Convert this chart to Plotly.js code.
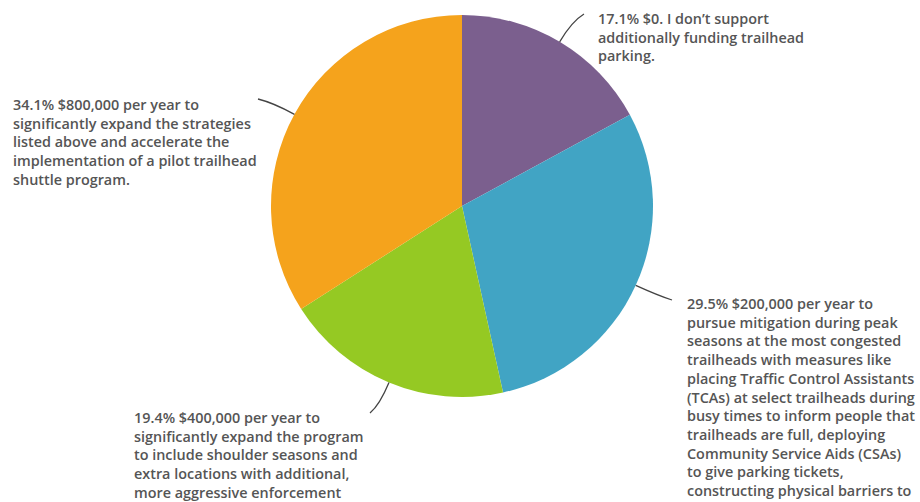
<!DOCTYPE html>
<html>
<head>
<meta charset="utf-8">
<script src="https://cdn.plot.ly/plotly-3.0.1.min.js"></script>
<style>html,body{margin:0;padding:0;background:#fff;}#chart{width:920px;height:502px;}</style>
</head>
<body>
<div id="chart"></div>
<script>
// ---- data ----
const categories = [
  "$0. I don’t support additionally funding trailhead parking.",
  "$200,000 per year to pursue mitigation",
  "$400,000 per year to significantly expand the program",
  "$800,000 per year to significantly expand the strategies"
];
const values = [17.1, 29.5, 19.4, 34.1];
const colors = ["#7b5f8e", "#41a4c4", "#95c923", "#f5a31c"];
const labelTexts = [
  "17.1% $0. I don’t support<br>additionally funding trailhead<br>parking.",
  "29.5% $200,000 per year to<br>pursue mitigation during peak<br>seasons at the most congested<br>trailheads with measures like<br>placing Traffic Control Assistants<br>(TCAs) at select trailheads during<br>busy times to inform people that<br>trailheads are full, deploying<br>Community Service Aids (CSAs)<br>to give parking tickets,<br>constructing physical barriers to",
  "19.4% $400,000 per year to<br>significantly expand the program<br>to include shoulder seasons and<br>extra locations with additional,<br>more aggressive enforcement",
  "34.1% $800,000 per year to<br>significantly expand the strategies<br>listed above and accelerate the<br>implementation of a pilot trailhead<br>shuttle program."
];

// ---- layout constants (pixels) ----
const W = 920, H = 502;
const CX = 462, CY = 206, R = 191;
const FS = 14.4;
const labelPos = [ // left x, first-line centre y
  [597, 17.3], [686, 302.7], [133, 416.7], [12, 103.3]
];
const leaderEnd = [[584, 14], [672, 300], [370, 413], [258, 99]];

const px = x => x / W;
const py = y => 1 - y / H;

const total = values.reduce((a, b) => a + b, 0);
let cum = 0;
const shapes = [];
values.forEach((v, i) => {
  const th = 2 * Math.PI * (cum + v / 2) / total;
  cum += v;
  const dx = Math.sin(th), dy = -Math.cos(th);
  const sx = CX + R * dx, sy = CY + R * dy;
  const cx = sx + 24 * dx, cy = sy + 24 * dy;
  const [ex, ey] = leaderEnd[i];
  shapes.push({
    type: 'path', xref: 'paper', yref: 'paper',
    path: `M ${px(sx)} ${py(sy)} Q ${px(cx)} ${py(cy)} ${px(ex)} ${py(ey)}`,
    line: {color: '#444', width: 1.3}
  });
});

const annotations = labelTexts.map((t, i) => ({
  xref: 'paper', yref: 'paper',
  x: px(labelPos[i][0]), y: py(labelPos[i][1] - FS * 1.3 / 2),
  xanchor: 'left', yanchor: 'top', align: 'left',
  text: t, showarrow: false, borderpad: 0,
  font: {family: '"Open Sans", Lato, sans-serif', size: FS, color: '#555', weight: 600}
}));

const trace = {
  type: 'pie',
  labels: categories,
  values: values,
  sort: false,
  direction: 'clockwise',
  rotation: 0,
  textinfo: 'none',
  hoverinfo: 'label+percent',
  marker: {colors: colors, line: {width: 0}},
  domain: {x: [(CX - R) / W, (CX + R) / W], y: [1 - (CY + R) / H, 1 - (CY - R) / H]},
  showlegend: false
};

Plotly.newPlot('chart', [trace], {
  width: W, height: H,
  margin: {l: 0, r: 0, t: 0, b: 0},
  paper_bgcolor: '#fff',
  showlegend: false,
  shapes: shapes,
  annotations: annotations
}, {displayModeBar: false, staticPlot: true});
</script>
</body>
</html>
